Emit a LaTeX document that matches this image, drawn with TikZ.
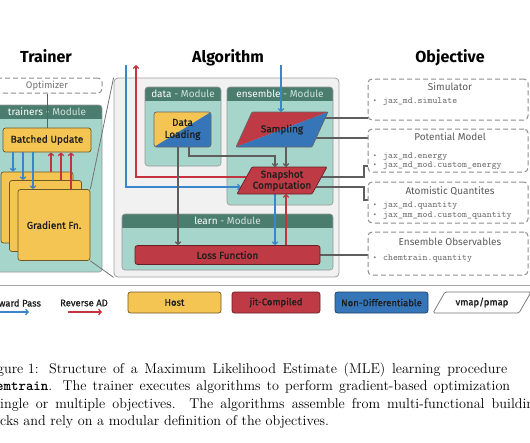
\documentclass[tikz,border=0pt]{standalone}
\usepackage{fontspec}
\setsansfont{Fira Sans}
\newfontfamily\medsf{Fira Sans}[FakeBold=0.9]
\usetikzlibrary{arrows.meta,fit,calc}
\definecolor{tealbg}{HTML}{A6D5CB}
\definecolor{hdr}{HTML}{4A7D6E}
\definecolor{hdrtxt}{HTML}{D3E2DD}
\definecolor{yel}{HTML}{F5C553}
\definecolor{redc}{HTML}{BE3A45}
\definecolor{bluec}{HTML}{3575B8}
\definecolor{fwdc}{HTML}{3A86CC}
\definecolor{revc}{HTML}{C4343E}
\definecolor{linec}{HTML}{5E5E5E}
\definecolor{algbg}{HTML}{F1F1F1}
\definecolor{algline}{HTML}{A0A0A0}
\definecolor{dashc}{HTML}{8C8C8C}
\definecolor{graytxt}{HTML}{5A5A5A}
\definecolor{monotxt}{HTML}{6E6E6E}
\definecolor{txt}{HTML}{1E1E1E}
\pgfdeclarelayer{bglayer}
\pgfdeclarelayer{linelayer}
\pgfsetlayers{bglayer,linelayer,main}
\newcommand\modbox[6]{%
  \begin{pgfonlayer}{bglayer}
  \node[modbg, fit={(#2,#3)(#4,#5)}] (#1) {};
  \begin{scope}
    \clip[rounded corners=3pt] (#2,#3) rectangle (#4,#5);
    \fill[hdr] (#2,#3) rectangle (#4,#3+14);
  \end{scope}
  \draw[modline, rounded corners=3pt] (#2,#3) rectangle (#4,#5);
  \node[hdrfont] (#1-h) at ({(#2+#4)/2},{#3+7}) {#6};
  \end{pgfonlayer}}
\begin{document}
\begin{tikzpicture}[x=1pt,y=-1pt,
  modbg/.style={inner sep=0pt, fill=tealbg, rounded corners=3pt},
  modline/.style={draw=black!40, line width=0.6pt},
  hdrfont/.style={font=\sffamily\fontsize{10}{12}\selectfont, text=hdrtxt, inner sep=0pt},
  title/.style={font=\sffamily\bfseries\fontsize{16}{18}\selectfont, text=black, anchor=base, inner sep=0pt},
  box/.style={rounded corners=2.5pt, line width=0.7pt, font=\medsf\fontsize{10}{11.5}\selectfont, text=txt, align=center, inner sep=0pt},
  yelbox/.style={box, fill=yel, draw=yel!45!black},
  redbox/.style={box, fill=redc, draw=redc!55!black},
  bluebox/.style={box, fill=bluec, draw=bluec!55!black},
  objbox/.style={draw=dashc, dash pattern=on 5pt off 3pt, line width=1pt, rounded corners=4pt, fill=white, inner sep=0pt},
  objtitle/.style={font=\sffamily\fontsize{10}{12}\selectfont, text=graytxt, inner sep=0pt, anchor=base},
  mono/.style={font=\ttfamily\fontsize{9.4}{11}\selectfont, text=monotxt, inner sep=0pt, anchor=base west},
  bul/.style={font=\sffamily\fontsize{8}{9}\selectfont, text=monotxt, inner sep=0pt, anchor=base},
  fwd/.style={draw=fwdc, line width=1.3pt, -{Straight Barb[length=2.5pt,width=5.5pt]}},
  rev/.style={draw=revc, line width=1.3pt, -{Straight Barb[length=2.5pt,width=5.5pt]}},
  gl/.style={draw=linec, line width=1.3pt},
  garrow/.style={gl, -{Straight Barb[length=2.5pt,width=5.5pt]}},
  zoomline/.style={draw=black!55, line width=0.8pt},
  legtxt/.style={font=\medsf\fontsize{9.5}{11}\selectfont, text=txt, inner sep=0pt},
  captxt/.style={font=\fontsize{14.2}{17}\selectfont, inner sep=0pt, anchor=base west, text=black}
]
\useasboundingbox (0,0) rectangle (530,442);

% titles
\node[title] (ttrain) at (46,62) {Trainer};
\node[title] (talg) at (228,62) {Algorithm};
\node[title] (tobj) at (450,62) {Objective};

% algorithm frame and modules
\begin{pgfonlayer}{bglayer}
\node[fit={(114,78)(339,277)}, inner sep=0pt, fill=algbg, draw=algline, line width=0.8pt, rounded corners=4pt] (algbox) {};
\end{pgfonlayer}
\modbox{trmod}{-8}{105}{102}{272}{\textcolor{white}{trainers} - Module}
\modbox{datamod}{145}{87}{221}{166}{\textcolor{white}{data} - Module}
\modbox{ensmod}{227}{87}{333}{205}{\textcolor{white}{ensemble} - Module}
\modbox{learnmod}{122}{214}{333}{270}{\textcolor{white}{learn} - Module}

% trainer
\node[objbox, minimum width=110pt, minimum height=15pt, font=\sffamily\fontsize{9.5}{11}\selectfont, text=black!55] (opt) at (47,85.5) {Optimizer};
\node[yelbox, minimum width=88pt, minimum height=24pt] (bu) at (47,140) {Batched Update};
\node[yelbox, minimum width=72pt, minimum height=71pt] (g1) at (37,207.5) {};
\node[yelbox, minimum width=72pt, minimum height=71pt] (g2) at (45.5,216) {};
\node[yelbox, minimum width=72pt, minimum height=71pt] (g3) at (54,225) {Gradient Fn.};
\begin{pgfonlayer}{linelayer}
\draw[gl, line width=0.9pt] (opt.south) -- (bu.north);
\draw[zoomline] (algbox.north west) -- (g3.north east);
\draw[zoomline] (g3.south east) -- (algbox.south west);
\end{pgfonlayer}
\draw[fwd] (13,0 |- bu.south) -- (13,0 |- g1.north);
\draw[fwd] (23,0 |- bu.south) -- (23,0 |- g2.north);
\draw[fwd] (33,0 |- bu.south) -- (33,0 |- g3.north);
\draw[rev] (51,0 |- g1.north) -- (51,0 |- bu.south);
\draw[rev] (61,0 |- g2.north) -- (61,0 |- bu.south);
\draw[rev] (71,0 |- g3.north) -- (71,0 |- bu.south);

% algorithm components
\node[box, draw=black!60, minimum width=57pt, minimum height=35pt, font=\medsf\fontsize{10}{12}\selectfont,
  path picture={\fill[yel] (path picture bounding box.north west) -- (path picture bounding box.north east) -- (path picture bounding box.south west) -- cycle;
  \fill[bluec] (path picture bounding box.north east) -- (path picture bounding box.south east) -- (path picture bounding box.south west) -- cycle;}] (dl) at (182.5,129.5) {Data\\Loading};

\coordinate (sTL) at (252,112); \coordinate (sTR) at (328,112);
\coordinate (sBR) at (312,147); \coordinate (sBL) at (236,147);
\fill[redc] (sTL) -- (sTR) -- (sBL) -- cycle;
\fill[bluec] (sTR) -- (sBR) -- (sBL) -- cycle;
\draw[line width=0.7pt, draw=black!60, rounded corners=1pt] (sTL) -- (sTR) -- (sBR) -- (sBL) -- cycle;
\node[box] (samp) at (282,129.5) {Sampling};

\coordinate (nTL) at (252,167); \coordinate (nTR) at (327,167);
\coordinate (nBR) at (312,194); \coordinate (nBL) at (237,194);
\draw[fill=redc, line width=0.7pt, draw=redc!55!black, rounded corners=1pt] (nTL) -- (nTR) -- (nBR) -- (nBL) -- cycle;
\node[box, font=\medsf\fontsize{10}{11}\selectfont] (snap) at (282,180.5) {Snapshot\\Computation};
\coordinate (nL1) at ($(nTL)!0.37!(nBL)$);
\coordinate (nL2) at ($(nTL)!0.74!(nBL)$);

\node[redbox, minimum width=185pt, minimum height=19pt] (lf) at (227.5,255) {Loss Function};

% external forward / reverse arrows
\coordinate (fwdtop) at (126,65);
\coordinate (revtop) at (136,65);
\coordinate (samptop) at (281,65);
\coordinate (dlturn) at (275,156);
\coordinate (pk) at (364,166);
\coordinate (ak) at (364,200);
\begin{pgfonlayer}{linelayer}
\draw[fwd] (fwdtop) |- (nL2);
\draw[rev] (nL1) -| (revtop);
\draw[fwd] (samptop) -- (samptop |- sTL);
\draw[garrow] (189,0 |- dl.south) |- (dlturn) -- (dlturn |- nTL);
\draw[garrow] (286,0 |- sBL) -- (286,0 |- nTL);
\draw[garrow] (178,0 |- dl.south) -- (178,0 |- lf.north);
\draw[fwd] (275,0 |- nBL) -- (275,0 |- lf.north);
\draw[rev] (286,0 |- lf.north) -- (286,0 |- nBL);
\end{pgfonlayer}

% objectives
\node[objbox, fit={(368,79)(528,120)}] (sim) {};
\node[objbox, fit={(368,129)(528,172)}] (pot) {};
\node[objbox, fit={(368,182)(528,223)}] (atom) {};
\node[objbox, fit={(368,232)(528,275)}] (ens) {};
\node[objtitle] (simt) at (450,90.5) {Simulator};
\node[bul] (simb1) at (375,103) {\textbullet};
\node[mono] (siml1) at (383,103) {jax\_md.simulate};
\node[objtitle] (pott) at (450,140.5) {Potential Model};
\node[bul] (potb1) at (375,158) {\textbullet};
\node[mono] (potl1) at (383,158) {jax\_md.energy};
\node[bul] (potb2) at (375,167.5) {\textbullet};
\node[mono] (potl2) at (383,167.5) {jax\_md\_mod.custom\_energy};
\node[objtitle] (atomt) at (450,194.5) {Atomistic Quantites};
\node[bul] (atomb1) at (375,207) {\textbullet};
\node[mono] (atoml1) at (383,207) {jax\_md.quantity};
\node[bul] (atomb2) at (375,217) {\textbullet};
\node[mono] (atoml2) at (383,217) {jax\_mm\_mod.custom\_quantity};
\node[objtitle] (enst) at (450,245.5) {Ensemble Observables};
\node[bul] (ensb1) at (375,260) {\textbullet};
\node[mono] (ensl1) at (383,260) {chemtrain.quantity};

\begin{pgfonlayer}{linelayer}
\draw[gl] (samp.center |- 0,118) -- (sim.west |- 0,118);
\draw[gl] (samp.center |- 0,138) -- (pot.west |- 0,138);
\draw[gl] (snap.center |- 0,177) -| (pk) -- (pot.west |- pk);
\draw[gl] (snap.center |- 0,187) -| (ak) -- (atom.west |- ak);
\draw[gl] (lf.center) -- (ens.west |- lf.center);
\end{pgfonlayer}

% separator and legend
\coordinate (sepL) at (0,285); \coordinate (sepR) at (530,285);
\draw[black!35, line width=0.8pt] (sepL) -- (sepR);
\node[legtxt] (lfwd) at (13,303) {Forward Pass};
\coordinate (lfwdA) at (-4,312); \coordinate (lfwdB) at (29,312);
\draw[fwd] (lfwdA) -- (lfwdB);
\node[legtxt] (lrev) at (84,303) {Reverse AD};
\coordinate (lrevA) at (68,312); \coordinate (lrevB) at (102,312);
\draw[rev] (lrevA) -- (lrevB);
\node[yelbox, minimum width=93pt, minimum height=21pt, font=\medsf\fontsize{9.5}{11}\selectfont] (host) at (174.5,302.5) {Host};
\node[redbox, minimum width=88pt, minimum height=21pt, font=\medsf\fontsize{9.5}{11}\selectfont] (jit) at (276,302.5) {jit-Compiled};
\node[bluebox, minimum width=93pt, minimum height=21pt, font=\medsf\fontsize{9.5}{11}\selectfont] (nondiff) at (381.5,302.5) {Non-Differentiable};
\coordinate (vBL) at (433,313); \coordinate (vTL) at (445,292);
\coordinate (vTR) at (531,292); \coordinate (vBR) at (519,313);
\draw[draw=black!55, line width=0.7pt, fill=white, rounded corners=1.5pt] (vBL) -- (vTL) -- (vTR) -- (vBR) -- cycle;
\node[legtxt] (vmap) at (482,302.5) {vmap/pmap};

% caption
\node[captxt, anchor=base east] (cap1a) at (39,373) {gure 1:};
\node[captxt] (cap1b) at (49,373) {\makebox[458pt][s]{Structure of a Maximum Likelihood Estimate (MLE) learning procedure}};
\node[captxt] (cap2) at (-4,390.5) {\makebox[514pt][s]{{\ttfamily\bfseries emtrain}. The trainer executes algorithms to perform gradient-based optimization}};
\node[captxt] (cap3) at (0,408) {\makebox[534pt][s]{ingle or multiple objectives. The algorithms assemble from multi-functional buildin}};
\node[captxt] (cap4) at (0,425.5) {cks and rely on a modular definition of the objectives.};
\end{tikzpicture}
\end{document}
